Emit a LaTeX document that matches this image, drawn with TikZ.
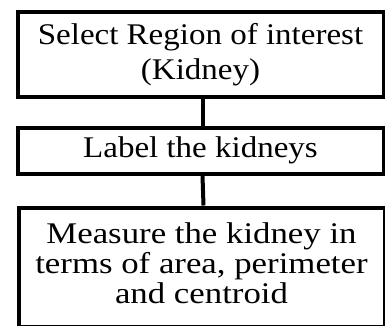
\documentclass[tikz,border=0pt]{standalone}
\usepackage{fontspec}
\setmainfont[FakeStretch=1.1]{Liberation Serif}
\newfontfamily\widefont[FakeStretch=1.16]{Liberation Serif}
\begin{document}
\begin{tikzpicture}[x=1pt,y=-1pt,
  box/.style={draw=black, line width=4pt, rectangle, inner sep=0pt, align=center,
    font=\fontsize{30}{35}\selectfont},
  conn/.style={draw=black, line width=4pt}]
\useasboundingbox (0,0) rectangle (385,326);
\clip (0,0) rectangle (385,326);
\node[box, minimum width=366pt, minimum height=85pt] (b1) at (200.5,54.5) {Select Region of interest\\(Kidney)};
\node[box, minimum width=366pt, minimum height=46.5pt] (b2) at (200.5,150.75) {Label the kidneys};
\node[box, minimum width=366pt, minimum height=119.6pt, font=\widefont\fontsize{30}{30}\selectfont] (b3) at (201.5,267.3)
  {\raisebox{6pt}{\begin{tabular}{@{}c@{}}Measure the kidney in\\terms of area, perimeter\\and centroid\end{tabular}}};
\draw[conn] ([xshift=2pt]b1.south) -- ([xshift=2pt]b2.north);
\draw[conn] ([xshift=2pt]b2.south) -- ([xshift=2pt]b3.north);
\end{tikzpicture}
\end{document}
